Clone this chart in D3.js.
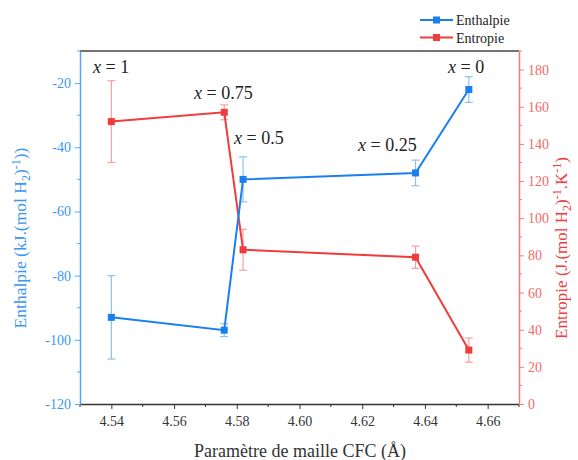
<!DOCTYPE html>
<html>
<head>
<meta charset="utf-8">
<script src="https://cdn.jsdelivr.net/npm/d3@7"></script>
<style>
  body { margin: 0; background: #fff; }
  svg text { font-family: "Liberation Serif", "DejaVu Serif", serif; }
</style>
</head>
<body>
<svg id="chart" width="578" height="460"></svg>
<script>
// data
const latticeParam = [4.54, 4.576, 4.582, 4.637, 4.654];
const enthalpy = [-93, -97, -50, -48, -22];
const enthalpyErr = [13, 2, 7, 4, 4];
const entropy = [152, 157, 83, 79, 29];
const entropyErr = [22, 4, 11, 6, 6.5];
const compLabels = ['1', '0.75', '0.5', '0.25', '0'];
const xTicks = [4.54, 4.56, 4.58, 4.60, 4.62, 4.64, 4.66];
const leftTicks = [-120, -100, -80, -60, -40, -20];
const rightTicks = [0, 20, 40, 60, 80, 100, 120, 140, 160, 180];

const serif = '"Liberation Serif", "DejaVu Serif", serif';
const blue = '#1a7ff0', blueLight = '#8cc0f7', blueAxis = '#55a5f5';
const red = '#f03c3c', redLight = '#f7a0a0', redAxis = '#f77878';

const margin = {top: 51, right: 59, bottom: 56, left: 80};
const width = 578 - margin.left - margin.right;
const height = 460 - margin.top - margin.bottom;

const svg = d3.select('#chart');
const g = svg.append('g').attr('transform', `translate(${margin.left},${margin.top})`);

const x = d3.scaleLinear().domain([4.53, 4.67]).range([0, width]);
const yL = d3.scaleLinear().domain([-120, -10]).range([height, 0]);
const yR = d3.scaleLinear().domain([0, 190]).range([height, 0]);

// top frame line
g.append('line').attr('x1', 0).attr('x2', width).attr('y1', 0).attr('y2', 0)
  .attr('stroke', '#444').attr('stroke-width', 1.5);

// minor ticks helper
function minor(axisG, scale, vals, orient) {
  vals.forEach(v => {
    const p = scale(v);
    const l = axisG.append('line').attr('stroke', 'currentColor');
    if (orient === 'bottom') l.attr('x1', p).attr('x2', p).attr('y1', 0).attr('y2', 3);
    if (orient === 'left') l.attr('y1', p).attr('y2', p).attr('x1', 0).attr('x2', -3);
    if (orient === 'right') l.attr('y1', p).attr('y2', p).attr('x1', 0).attr('x2', 3);
  });
}

// bottom axis
const xAxis = g.append('g').attr('transform', `translate(0,${height})`)
  .call(d3.axisBottom(x).tickValues(xTicks).tickFormat(d => d.toFixed(2)).tickSize(5).tickSizeOuter(0))
  .attr('color', '#333').attr('font-family', serif);
minor(xAxis, x, [4.53, 4.55, 4.57, 4.59, 4.61, 4.63, 4.65, 4.67], 'bottom');
xAxis.select('.domain').attr('stroke-width', 1.5);
xAxis.selectAll('text').attr('font-size', 14).attr('fill', '#333').attr('dy', '1.0em');

// left axis
const lAxis = g.append('g')
  .call(d3.axisLeft(yL).tickValues(leftTicks).tickFormat(d => String(d)).tickSize(5).tickSizeOuter(0))
  .attr('color', blueAxis).attr('font-family', serif);
minor(lAxis, yL, [-110, -90, -70, -50, -30, -10], 'left');
lAxis.select('.domain').attr('stroke-width', 1.5);
lAxis.selectAll('text').attr('font-size', 14).attr('fill', '#3b96f3').attr('x', -9);

// right axis
const rAxis = g.append('g').attr('transform', `translate(${width},0)`)
  .call(d3.axisRight(yR).tickValues(rightTicks).tickFormat(d => String(d)).tickSize(5).tickSizeOuter(0))
  .attr('color', redAxis).attr('font-family', serif);
minor(rAxis, yR, [10, 30, 50, 70, 90, 110, 130, 150, 170, 190], 'right');
rAxis.select('.domain').attr('stroke-width', 1.5);
rAxis.selectAll('text').attr('font-size', 14).attr('fill', '#f26a6a').attr('x', 9);

// series drawing
function drawSeries(vals, errs, yScale, col, light) {
  const pts = latticeParam.map((d, i) => ({x: d, y: vals[i], e: errs[i]}));
  const eb = g.append('g').attr('stroke', light).attr('stroke-width', 1.2);
  pts.forEach(p => {
    const cx = x(p.x), y1 = yScale(p.y + p.e), y2 = yScale(p.y - p.e);
    eb.append('line').attr('x1', cx).attr('x2', cx).attr('y1', y1).attr('y2', y2);
    eb.append('line').attr('x1', cx - 4).attr('x2', cx + 4).attr('y1', y1).attr('y2', y1);
    eb.append('line').attr('x1', cx - 4).attr('x2', cx + 4).attr('y1', y2).attr('y2', y2);
  });
  g.append('path').datum(pts)
    .attr('d', d3.line().x(p => x(p.x)).y(p => yScale(p.y)))
    .attr('fill', 'none').attr('stroke', col).attr('stroke-width', 2);
  g.selectAll(null).data(pts).enter().append('rect')
    .attr('x', p => x(p.x) - 3.5).attr('y', p => yScale(p.y) - 3.5)
    .attr('width', 7).attr('height', 7).attr('fill', col);
}
drawSeries(entropy, entropyErr, yR, red, redLight);
drawSeries(enthalpy, enthalpyErr, yL, blue, blueLight);

// composition labels (pixel offsets relative to plot)
const labelPos = [[13, 22], [114, 48], [154, 93], [278, 100], [368, 22]];
compLabels.forEach((t, i) => {
  const tx = g.append('text').attr('x', labelPos[i][0]).attr('y', labelPos[i][1])
    .attr('font-size', 18).attr('font-family', serif).attr('fill', '#222');
  tx.append('tspan').attr('font-style', 'italic').text('x');
  tx.append('tspan').text(' = ' + t);
});

// axis titles
svg.append('text').attr('x', 300).attr('y', 457).attr('text-anchor', 'middle')
  .attr('font-family', serif).attr('font-size', 18).attr('fill', '#333').text('Paramètre de maille CFC (Å)');

const lt = svg.append('text').attr('transform', 'translate(26,238) rotate(-90)')
  .attr('text-anchor', 'middle').attr('font-family', serif).attr('font-size', 17.5).attr('fill', '#3b96f3');
lt.append('tspan').text('Enthalpie (kJ.(mol H');
lt.append('tspan').attr('font-size', 12).attr('dy', 4).text('2');
lt.append('tspan').attr('dy', -4).text(')');
lt.append('tspan').attr('font-size', 12).attr('dy', -6).text('-1');
lt.append('tspan').attr('dy', 6).text('))');

const rt = svg.append('text').attr('transform', 'translate(567,248) rotate(-90)')
  .attr('text-anchor', 'middle').attr('font-family', serif).attr('font-size', 17).attr('fill', red);
rt.append('tspan').text('Entropie (J.(mol H');
rt.append('tspan').attr('font-size', 12).attr('dy', 4).text('2');
rt.append('tspan').attr('dy', -4).text(')');
rt.append('tspan').attr('font-size', 12).attr('dy', -6).text('-1');
rt.append('tspan').attr('dy', 6).text('.K');
rt.append('tspan').attr('font-size', 12).attr('dy', -6).text('-1');
rt.append('tspan').attr('dy', 6).text(')');

// legend
const legendItems = [['Enthalpie', blue], ['Entropie', red]];
const lg = svg.append('g').attr('transform', 'translate(420,20)');
legendItems.forEach((d, i) => {
  const row = lg.append('g').attr('transform', `translate(0,${i * 17.5})`);
  row.append('line').attr('x1', 0).attr('x2', 33).attr('stroke', d[1]).attr('stroke-width', 2);
  row.append('rect').attr('x', 13).attr('y', -3.5).attr('width', 7).attr('height', 7).attr('fill', d[1]);
  row.append('text').attr('x', 36).attr('y', 5).attr('font-family', serif)
    .attr('font-size', 14).attr('fill', '#222').text(d[0]);
});
</script>
</body>
</html>
